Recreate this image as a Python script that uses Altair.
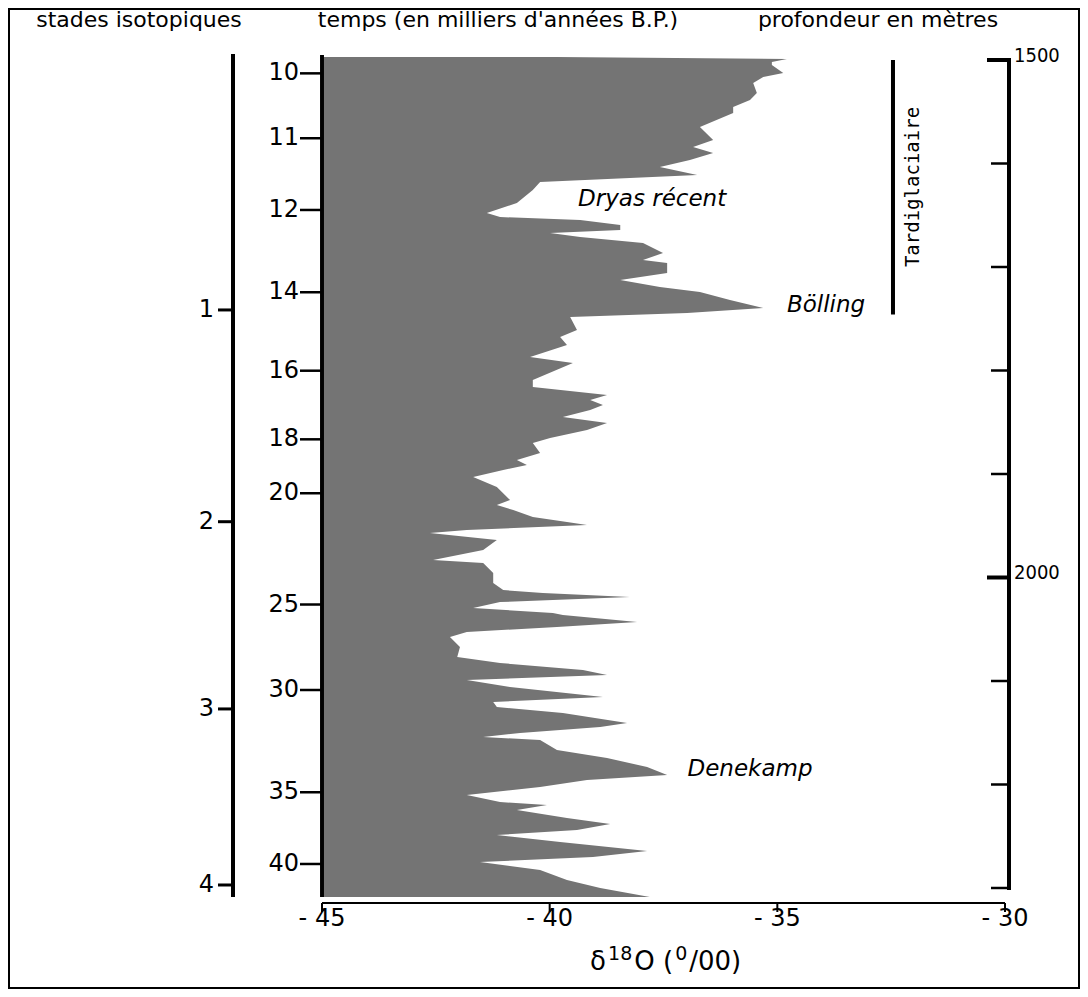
import altair as alt
import pandas as pd

# --- data ----------------------------------------------------------------
depth_m = [1497.1, 1499.0, 1501.9, 1504.8, 1512.6, 1516.4, 1522.2, 1531.9, 1538.6, 1545.4,
           1551.2, 1564.7, 1577.3, 1584.1, 1589.9, 1596.6, 1603.4, 1611.1, 1617.9, 1625.6,
           1638.2, 1647.8, 1651.7, 1654.6, 1659.4, 1664.3, 1667.1, 1671.0, 1676.8, 1686.5,
           1693.2, 1696.1, 1705.8, 1712.6, 1719.3, 1724.2, 1731.9, 1739.6, 1744.4, 1748.3,
           1760.9, 1767.6, 1775.4, 1787.0, 1792.8, 1809.2, 1815.9, 1823.7, 1828.5, 1833.3,
           1838.2, 1844.9, 1850.7, 1857.5, 1865.2, 1870.0, 1879.7, 1886.5, 1891.3, 1896.1,
           1902.9, 1912.6, 1925.1, 1930.0, 1934.8, 1941.5, 1946.4, 1949.3, 1954.1, 1957.0,
           1963.8, 1973.4, 1983.1, 1986.0, 1995.7, 2005.3, 2012.1, 2015.0, 2018.8, 2023.7,
           2029.5, 2034.3, 2036.2, 2043.0, 2047.8, 2052.7, 2057.5, 2067.1, 2076.8, 2082.6,
           2089.4, 2094.2, 2099.0, 2105.8, 2115.5, 2120.3, 2125.1, 2130.9, 2140.6, 2144.4,
           2150.2, 2154.1, 2157.0, 2166.7, 2174.4, 2183.1, 2190.8, 2195.7, 2202.4, 2210.1,
           2216.9, 2219.8, 2224.6, 2232.4, 2238.2, 2243.9, 2248.8, 2255.6, 2264.3, 2270.0,
           2274.9, 2282.6, 2292.3, 2300.0, 2308.7]
d18o = [-39.84, -34.79, -35.12, -35.12, -34.87, -35.31, -35.53, -35.45, -35.60, -35.97,
        -35.97, -36.70, -36.41, -36.85, -36.41, -36.92, -37.58, -36.76, -40.21, -40.37,
        -40.72, -41.38, -41.09, -39.33, -38.45, -38.45, -39.99, -39.33, -37.95, -37.51,
        -37.95, -37.42, -37.42, -38.45, -37.58, -36.70, -36.04, -35.31, -36.98, -39.55,
        -39.40, -39.77, -39.62, -40.43, -39.49, -40.37, -40.37, -38.74, -39.11, -38.83,
        -39.11, -39.71, -38.74, -39.18, -39.99, -40.37, -40.21, -40.72, -40.50, -41.02,
        -41.68, -41.16, -40.87, -41.16, -40.80, -40.37, -39.62, -39.18, -41.82, -42.63,
        -41.16, -41.46, -42.56, -41.46, -41.24, -41.24, -41.02, -40.15, -38.24, -41.09,
        -41.68, -39.93, -39.71, -38.08, -39.84, -41.82, -42.19, -41.97, -42.03, -41.09,
        -39.27, -38.74, -41.82, -40.87, -38.83, -41.24, -41.16, -39.71, -38.30, -38.89,
        -40.65, -41.46, -40.21, -39.84, -38.74, -37.86, -37.42, -39.18, -40.21, -41.82,
        -41.09, -40.06, -40.72, -39.62, -38.67, -39.40, -41.16, -39.77, -37.86, -39.05,
        -41.53, -40.21, -39.62, -38.89, -37.80]

time_ka = ["10", "11", "12", "14", "16", "18", "20", "25", "30", "35", "40"]
time_depth = [1512.9, 1575.6, 1644.9, 1724.4, 1800.2, 1866.5, 1918.6, 2026.1, 2108.7, 2207.5, 2276.8]

stade_labels = ["1", "2", "3", "4"]
stade_depth = [1741.5, 1946.1, 2127.0, 2297.1]

depth_ticks = [1500, 1600, 1700, 1800, 1900, 2000, 2100, 2200, 2300]
depth_major = [1500, 2000]

x_ticks = [-45, -40, -35, -30]
x_tick_labels = ["- 45", "- 40", "- 35", "- 30"]
x_base = -45
# axis title pieces: (text, superscript?)
x_title_parts = [("δ", False), ("18", True), ("O (", False), ("0", True), ("/00)", False)]

annot_text = ["Dryas récent", "Bölling", "Denekamp"]
annot_d18o = [-37.75, -33.93, -35.60]
annot_depth = [1634.3, 1736.7, 2185.0]

tardi_top, tardi_bottom = 1500, 1746
tardi_x = -32.46
tardi_label_x = -32.02
tardi_label_depth = 1622.7

# --- scales ---------------------------------------------------------------
XS = alt.Scale(domain=[-45, -30], nice=False, zero=False)
YS = alt.Scale(domain=[1497.1, 2308.7], reverse=True, nice=False, zero=False)
FONT = "DejaVu Sans"
NARROW = "Liberation Sans Narrow, DejaVu Sans Condensed, Arial Narrow, sans-serif"
FILL = "#747474"

df = pd.DataFrame({"depth": depth_m, "d18o": d18o})
df["base"] = x_base

area = alt.Chart(df).mark_area(orient="horizontal", color=FILL, interpolate="linear").encode(
    y=alt.Y("depth:Q", scale=YS, axis=None),
    x=alt.X("d18o:Q", scale=XS, axis=None),
    x2="base:Q",
)

# bottom axis (δ18O)
xt_df = pd.DataFrame({"v": x_ticks, "lab": x_tick_labels})
x_line = alt.Chart(xt_df).mark_rule(color="black", strokeWidth=2).encode(
    x=alt.value(0), x2=alt.value(683), y=alt.value(846))
x_tk = alt.Chart(xt_df).mark_rule(color="black", strokeWidth=2).encode(
    x=alt.X("v:Q", scale=XS, axis=None), y=alt.value(846), y2=alt.value(855))
x_lab = alt.Chart(xt_df).mark_text(font=FONT, fontSize=24, align="center", baseline="top",
                                   color="black").encode(
    x=alt.X("v:Q", scale=XS, axis=None), y=alt.value(850), text="lab:N")

# axis title built from pieces with raised superscripts
title_layers = []
cursor = 268  # left edge of the title, in px from the plot's left edge
for txt, sup in x_title_parts:
    size = 19 if sup else 26
    w = sum(0.636 if c.isdigit() else {"δ": 0.62, "O": 0.787, " ": 0.318, "(": 0.39,
                                       ")": 0.39, "/": 0.337}.get(c, 0.6) for c in txt) * size
    title_layers.append(
        alt.Chart(pd.DataFrame({"t": [txt]})).mark_text(
            font=FONT, fontSize=size, align="left", baseline="alphabetic", color="black").encode(
            x=alt.value(cursor), y=alt.value(903 if sup else 913), text="t:N"))
    cursor += w + 2

# time axis (left edge of the plot)
time_df = pd.DataFrame({"t": time_ka, "depth": time_depth})
time_line = alt.Chart(time_df).mark_rule(color="black", strokeWidth=2.5).encode(
    x=alt.value(0), y=alt.value(-2), y2=alt.value(840))
time_ticks = alt.Chart(time_df).mark_rule(color="black", strokeWidth=2.5).encode(
    y=alt.Y("depth:Q", scale=YS, axis=None), x=alt.value(-22), x2=alt.value(0))
time_text = alt.Chart(time_df).mark_text(font=FONT, fontSize=24, align="right", baseline="middle",
                                         color="black").encode(
    y=alt.Y("depth:Q", scale=YS, axis=None), x=alt.value(-23), text="t:N")

# stades isotopiques axis
st_df = pd.DataFrame({"s": stade_labels, "depth": stade_depth})
st_line = alt.Chart(st_df).mark_rule(color="black", strokeWidth=4).encode(
    x=alt.value(-89), y=alt.value(-3), y2=alt.value(840))
st_ticks = alt.Chart(st_df).mark_rule(color="black", strokeWidth=3).encode(
    y=alt.Y("depth:Q", scale=YS, axis=None), x=alt.value(-104), x2=alt.value(-89))
st_text = alt.Chart(st_df).mark_text(font=FONT, fontSize=24, align="right", baseline="middle",
                                     color="black").encode(
    y=alt.Y("depth:Q", scale=YS, axis=None), x=alt.value(-108), text="s:N")

# depth axis (right)
dep_df = pd.DataFrame({"depth": depth_ticks})
dep_df["major"] = dep_df["depth"].isin(depth_major)
dep_line = alt.Chart(pd.DataFrame({"a": [depth_ticks[0]], "b": [depth_ticks[-1]]})).mark_rule(
    color="black", strokeWidth=4, strokeCap="square").encode(
    x=alt.value(687), y=alt.Y("a:Q", scale=YS, axis=None), y2="b:Q")
dep_minor = alt.Chart(dep_df[~dep_df["major"]]).mark_rule(color="black", strokeWidth=2.5).encode(
    y=alt.Y("depth:Q", scale=YS, axis=None), x=alt.value(669), x2=alt.value(687))
dep_major = alt.Chart(dep_df[dep_df["major"]]).mark_rule(color="black", strokeWidth=4).encode(
    y=alt.Y("depth:Q", scale=YS, axis=None), x=alt.value(665), x2=alt.value(687))
dep_text = alt.Chart(pd.DataFrame({"depth": depth_major, "lab": [str(v) for v in depth_major]})).mark_text(
    font=NARROW, fontSize=20, align="left", baseline="alphabetic", dy=2, color="black").encode(
    y=alt.Y("depth:Q", scale=YS, axis=None), x=alt.value(692), text="lab:N")

# Tardiglaciaire bar and label
tardi_df = pd.DataFrame({"x": [tardi_x], "a": [tardi_top], "b": [tardi_bottom],
                         "lx": [tardi_label_x], "ly": [tardi_label_depth], "t": ["Tardiglaciaire"]})
tardi_line = alt.Chart(tardi_df).mark_rule(color="black", strokeWidth=4).encode(
    x=alt.X("x:Q", scale=XS, axis=None), y=alt.Y("a:Q", scale=YS, axis=None), y2="b:Q")
tardi_text = alt.Chart(tardi_df).mark_text(font="DejaVu Sans Mono", fontSize=19, angle=270,
                                           align="center", baseline="middle", color="black").encode(
    x=alt.X("lx:Q", scale=XS, axis=None), y=alt.Y("ly:Q", scale=YS, axis=None), text="t:N")

# italic annotations
ann_df = pd.DataFrame({"t": annot_text, "x": annot_d18o, "y": annot_depth})
ann = alt.Chart(ann_df).mark_text(font=FONT, fontSize=23, fontStyle="italic", align="center",
                                  baseline="middle", color="black").encode(
    x=alt.X("x:Q", scale=XS, axis=None), y=alt.Y("y:Q", scale=YS, axis=None), text="t:N")

# column headers
def header(txt, xpos):
    return alt.Chart(pd.DataFrame({"t": [txt]})).mark_text(
        font=FONT, fontSize=22, align="center", baseline="middle", color="black").encode(
        x=alt.value(xpos), y=alt.value(-37), text="t:N")

h1 = header("stades isotopiques", -183)
h2 = header("temps (en milliers d'années B.P.)", 176)
h3 = header("profondeur en mètres", 556)

frame = alt.Chart(pd.DataFrame({"k": [0]})).mark_rect(fill=None, stroke="black", strokeWidth=2).encode(
    x=alt.value(-313), x2=alt.value(757), y=alt.value(-48), y2=alt.value(931))

chart = alt.layer(
    area, x_line, x_tk, x_lab, *title_layers, time_line, time_ticks, time_text,
    st_line, st_ticks, st_text,
    dep_line, dep_minor, dep_major, dep_text, tardi_line, tardi_text, ann, h1, h2, h3, frame
).properties(
    width=683, height=840,
    padding={"left": 314, "top": 49, "right": 75, "bottom": 92},
    autosize=alt.AutoSizeParams(type="none"),
    background="white",
).configure_view(stroke=None)

chart.save("out.html", embed_options={"renderer": "svg", "actions": False})
